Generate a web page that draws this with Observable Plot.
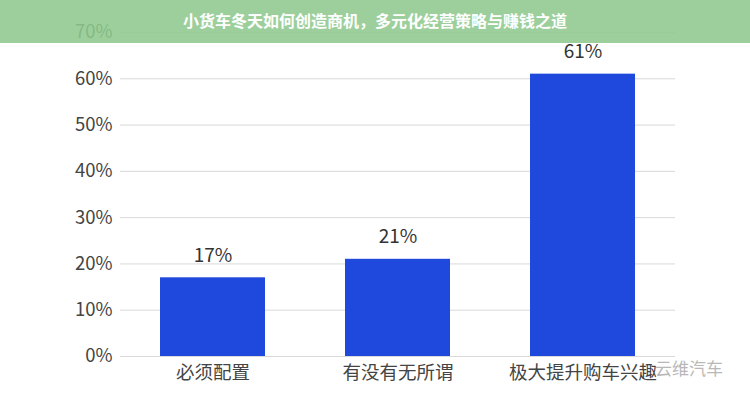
<!DOCTYPE html>
<html>
<head>
<meta charset="utf-8">
<script src="https://cdn.jsdelivr.net/npm/d3@7"></script>
<script src="https://cdn.jsdelivr.net/npm/@observablehq/plot@0.6"></script>
<style>
  body { margin: 0; background: #fff; }
  #wrap { position: relative; width: 750px; height: 400px; overflow: hidden; font-family: "Noto Sans CJK SC", "Noto Sans", sans-serif; }
  #banner { position: absolute; left: 0; top: 0; width: 750px; height: 43px; background: rgba(142, 200, 142, 0.88);
    color: #fff; font-weight: bold; font-size: 16px; text-align: center; line-height: 40px; }
  #mark { position: absolute; left: 655px; top: 355px; color: #b8b8b8; font-size: 17px; }
</style>
</head>
<body>
<div id="wrap">
  <div id="chart"></div>
  <div id="banner">小货车冬天如何创造商机，多元化经营策略与赚钱之道</div>
  <div id="mark">云维汽车</div>
</div>
<script>
const categories = ["必须配置", "有没有无所谓", "极大提升购车兴趣"];
const values = [0.17, 0.21, 0.61];
const valueLabels = ["17%", "21%", "61%"];
const yTicks = [0, 0.1, 0.2, 0.3, 0.4, 0.5, 0.6, 0.7];

const data = categories.map((c, i) => ({category: c, value: values[i], label: valueLabels[i]}));

const chart = Plot.plot({
  width: 750,
  height: 400,
  marginLeft: 120,
  marginRight: 75,
  marginTop: 32,
  marginBottom: 44,
  style: {fontFamily: '"Noto Sans CJK SC", "Noto Sans", sans-serif', fontSize: "18.5px", color: "#444", background: "transparent"},
  x: {domain: categories, paddingInner: 0.432, paddingOuter: 0.216, label: null, tickSize: 0, tickPadding: 9},
  y: {domain: [0, 0.7], ticks: yTicks, tickFormat: d => Math.round(d * 100) + "%", label: null, tickSize: 0, tickPadding: 8},
  marks: [
    Plot.gridY(yTicks, {stroke: "#d9d9d9", strokeOpacity: 1, strokeWidth: 1}),
    Plot.barY(data, {x: "category", y: "value", fill: "#1f48dc"}),
    Plot.text(data, {x: "category", y: "value", text: "label", lineAnchor: "bottom", dy: -16, fontSize: 19, fill: "#333"})
  ]
});
document.getElementById("chart").appendChild(chart);
</script>
</body>
</html>
